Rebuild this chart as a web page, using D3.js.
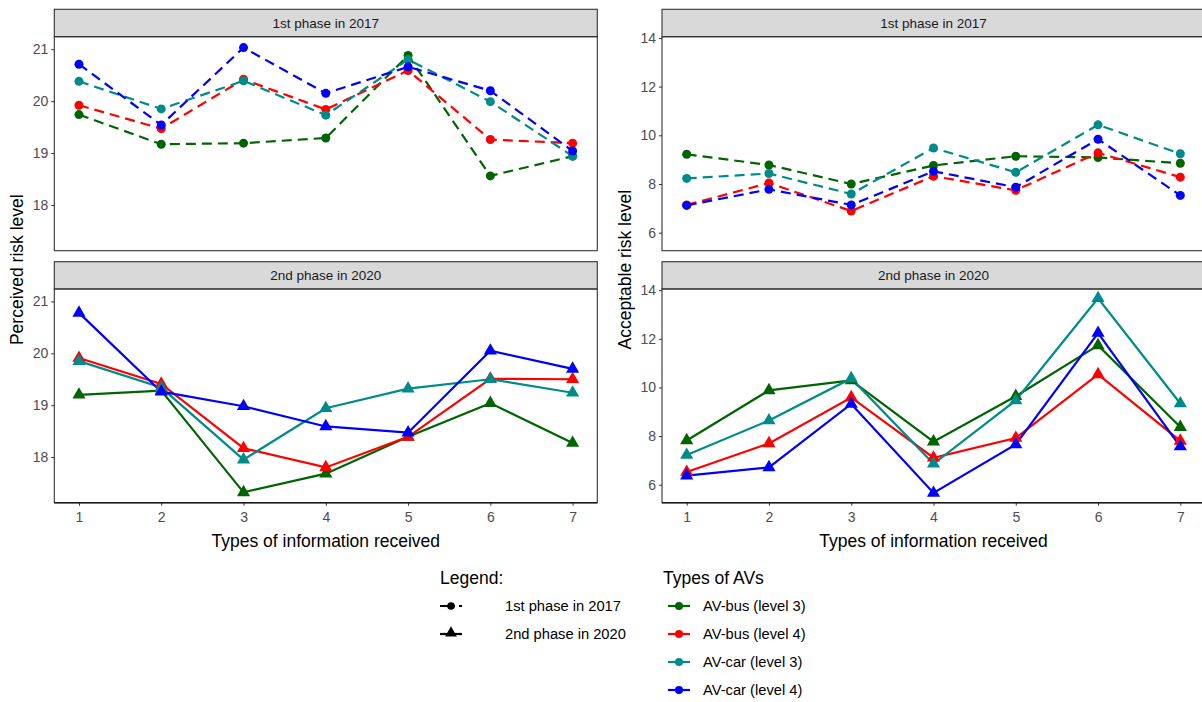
<!DOCTYPE html>
<html>
<head>
<meta charset="utf-8">
<script src="https://cdn.jsdelivr.net/npm/d3@7"></script>
<style>
  html, body { margin: 0; padding: 0; background: #fff; }
  svg { display: block; font-family: "Liberation Sans", Arial, sans-serif; }
</style>
</head>
<body>
<svg id="chart" width="1202" height="702"></svg>
<script>
// ---------- data ----------
const infoTypes = [1, 2, 3, 4, 5, 6, 7];
const seriesNames = ["AV-bus (level 3)", "AV-bus (level 4)", "AV-car (level 3)", "AV-car (level 4)"];
const seriesColors = ["#006400", "#FF0000", "#008B8B", "#0000FF"];
const phases = ["1st phase in 2017", "2nd phase in 2020"];

// Perceived risk level, phase 1 (2017)
const perceived2017 = [
  [19.74, 19.17, 19.19, 19.29, 20.88, 18.56, 18.94],
  [19.92, 19.47, 20.42, 19.84, 20.59, 19.26, 19.19],
  [20.38, 19.85, 20.39, 19.73, 20.80, 19.99, 18.94],
  [20.71, 19.54, 21.03, 20.15, 20.66, 20.20, 19.04]
];
// Perceived risk level, phase 2 (2020)
const perceived2020 = [
  [19.20, 19.28, 17.32, 17.68, 18.39, 19.04, 18.27],
  [19.91, 19.41, 18.17, 17.80, 18.39, 19.51, 19.50],
  [19.85, 19.34, 17.95, 18.94, 19.32, 19.50, 19.24],
  [20.78, 19.26, 18.98, 18.59, 18.47, 20.05, 19.70]
];
// Acceptable risk level, phase 1 (2017)
const acceptable2017 = [
  [9.22, 8.78, 8.00, 8.76, 9.14, 9.09, 8.85],
  [7.14, 8.04, 6.89, 8.32, 7.74, 9.28, 8.28],
  [8.23, 8.43, 7.59, 9.48, 8.48, 10.43, 9.24],
  [7.12, 7.78, 7.14, 8.52, 7.87, 9.84, 7.53]
];
// Acceptable risk level, phase 2 (2020)
const acceptable2020 = [
  [7.82, 9.88, 10.29, 7.77, 9.64, 11.73, 8.37],
  [6.52, 7.70, 9.59, 7.11, 7.92, 10.54, 7.80],
  [7.22, 8.64, 10.37, 6.86, 9.47, 13.67, 9.34],
  [6.37, 6.71, 9.32, 5.66, 7.66, 12.24, 7.57]
];

const xTicks = [1, 2, 3, 4, 5, 6, 7];
const perceivedTicks = [18, 19, 20, 21];
const acceptableTicks = [6, 8, 10, 12, 14];
const xTitle = "Types of information received";
const leftTitle = "Perceived risk level";
const rightTitle = "Acceptable risk level";

// ---------- layout ----------
const svg = d3.select("#chart");
const rows = [
  { stripTop: 9.3, top: 36.7, bottom: 250.7 },
  { stripTop: 261.7, top: 289, bottom: 502.7 }
];
const cols = [
  { left: 54.3, right: 597.3, data: [perceived2017, perceived2020], domain: [17.12, 21.24], ticks: perceivedTicks, title: leftTitle, titleX: 17 },
  { left: 662, right: 1205, data: [acceptable2017, acceptable2020], domain: [5.26, 14.05], ticks: acceptableTicks, title: rightTitle, titleX: 625 }
];

const tickColor = "#4d4d4d";
const borderColor = "#333333";
const tickFont = 14;
const stripFont = 13.5;
const titleFont = 17.5;
const legendItemFont = 14.7;

cols.forEach((col, ci) => {
  const x = d3.scaleLinear().domain([0.7, 7.3]).range([col.left, col.right]);
  rows.forEach((row, ri) => {
    const y = d3.scaleLinear().domain(col.domain).range([row.bottom, row.top]);
    const g = svg.append("g");

    // strip
    g.append("rect")
      .attr("x", col.left).attr("y", row.stripTop)
      .attr("width", col.right - col.left).attr("height", row.top - row.stripTop)
      .attr("fill", "#d9d9d9").attr("stroke", borderColor).attr("stroke-width", 1.1);
    g.append("text")
      .attr("x", (col.left + col.right) / 2).attr("y", (row.stripTop + row.top) / 2)
      .attr("dy", "0.35em").attr("text-anchor", "middle")
      .attr("font-size", stripFont).attr("fill", "#1a1a1a")
      .text(phases[ri]);

    // y axis
    const yAxis = g.append("g").attr("transform", `translate(${col.left},0)`)
      .call(d3.axisLeft(y).tickValues(col.ticks).tickSize(3).tickPadding(3).tickFormat(d3.format("d")));
    yAxis.select(".domain").remove();
    yAxis.selectAll(".tick line").attr("stroke", borderColor).attr("stroke-width", 1);
    yAxis.selectAll(".tick text").attr("fill", tickColor).attr("font-size", tickFont)
      .attr("font-family", "Liberation Sans, Arial, sans-serif");

    // x axis only on bottom row
    if (ri === 1) {
      const xAxis = g.append("g").attr("transform", `translate(0,${row.bottom})`)
        .call(d3.axisBottom(x).tickValues(xTicks).tickSize(3).tickPadding(6).tickFormat(d3.format("d")));
      xAxis.select(".domain").remove();
      xAxis.selectAll(".tick line").attr("stroke", borderColor).attr("stroke-width", 1);
      xAxis.selectAll(".tick text").attr("fill", tickColor).attr("font-size", tickFont)
        .attr("font-family", "Liberation Sans, Arial, sans-serif");
    }

    // series
    const dataset = col.data[ri];
    const line = d3.line().x((d, i) => x(infoTypes[i])).y(d => y(d));
    dataset.forEach((vals, si) => {
      g.append("path")
        .attr("d", line(vals))
        .attr("fill", "none")
        .attr("stroke", seriesColors[si])
        .attr("stroke-width", 2.2)
        .attr("stroke-dasharray", ri === 0 ? "10,6" : null);
    });
    dataset.forEach((vals, si) => {
      if (ri === 0) {
        g.selectAll(null).data(vals).enter().append("circle")
          .attr("cx", (d, i) => x(infoTypes[i])).attr("cy", d => y(d))
          .attr("r", 4.5).attr("fill", seriesColors[si]);
      } else {
        const tri = d3.symbol().type(d3.symbolTriangle).size(75);
        g.selectAll(null).data(vals).enter().append("path")
          .attr("d", tri)
          .attr("transform", (d, i) => `translate(${x(infoTypes[i])},${y(d)})`)
          .attr("fill", seriesColors[si]);
      }
    });

    // panel border
    g.append("rect")
      .attr("x", col.left).attr("y", row.top)
      .attr("width", col.right - col.left).attr("height", row.bottom - row.top)
      .attr("fill", "none").attr("stroke", borderColor).attr("stroke-width", 1.1);
    if (ri === 1) {
      g.append("line")
        .attr("x1", col.left).attr("x2", col.right)
        .attr("y1", row.bottom).attr("y2", row.bottom)
        .attr("stroke", "#1a1a1a").attr("stroke-width", 1.6);
    }
  });

  // axis titles
  svg.append("text")
    .attr("x", (col.left + col.right) / 2).attr("y", 541)
    .attr("dy", "0.35em").attr("text-anchor", "middle")
    .attr("font-size", titleFont).attr("fill", "#000")
    .text(xTitle);
  svg.append("text")
    .attr("transform", `translate(${col.titleX},${(rows[0].top + rows[1].bottom) / 2}) rotate(-90)`)
    .attr("dy", "0.35em").attr("text-anchor", "middle")
    .attr("font-size", titleFont).attr("fill", "#000")
    .text(col.title);
});

// ---------- legends ----------
const leg = svg.append("g");
leg.append("text").attr("x", 440).attr("y", 578).attr("dy", "0.35em")
  .attr("font-size", titleFont).text("Legend:");
phases.forEach((p, i) => {
  const cy = 606 + i * 28;
  const gl = leg.append("g");
  if (i === 0) {
    gl.append("line").attr("x1", 440).attr("x2", 462).attr("y1", cy).attr("y2", cy)
      .attr("stroke", "#000").attr("stroke-width", 2.2).attr("stroke-dasharray", "15,4,3,10");
    gl.append("circle").attr("cx", 451).attr("cy", cy).attr("r", 3.8).attr("fill", "#000");
  } else {
    gl.append("line").attr("x1", 440).attr("x2", 462).attr("y1", cy).attr("y2", cy)
      .attr("stroke", "#000").attr("stroke-width", 2.2);
    gl.append("path").attr("d", d3.symbol().type(d3.symbolTriangle).size(60))
      .attr("transform", `translate(451,${cy - 1})`).attr("fill", "#000");
  }
  leg.append("text").attr("x", 505).attr("y", cy).attr("dy", "0.35em")
    .attr("font-size", legendItemFont).attr("fill", "#000").text(p);
});

leg.append("text").attr("x", 663).attr("y", 578).attr("dy", "0.35em")
  .attr("font-size", titleFont).text("Types of AVs");
seriesNames.forEach((s, i) => {
  const cy = 606 + i * 28;
  leg.append("line").attr("x1", 668).attr("x2", 690).attr("y1", cy).attr("y2", cy)
    .attr("stroke", seriesColors[i]).attr("stroke-width", 2.2);
  leg.append("circle").attr("cx", 679).attr("cy", cy).attr("r", 4).attr("fill", seriesColors[i]);
  leg.append("text").attr("x", 703).attr("y", cy).attr("dy", "0.35em")
    .attr("font-size", legendItemFont).attr("fill", "#000").text(s);
});
</script>
</body>
</html>
